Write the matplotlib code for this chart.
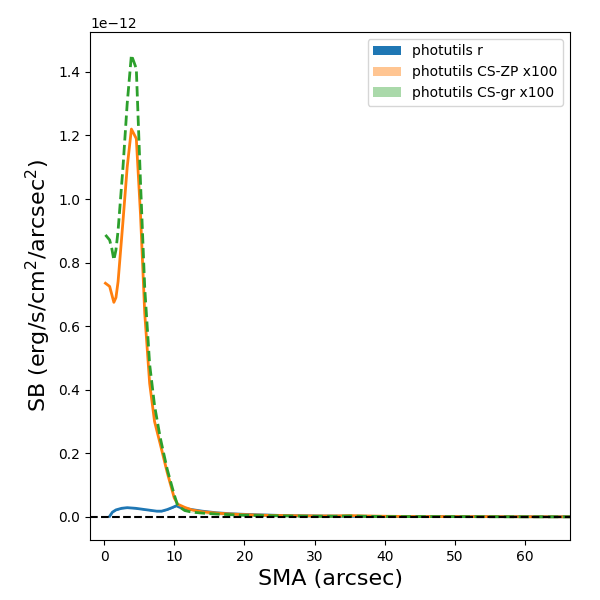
import numpy as np
import matplotlib
matplotlib.use("Agg")
import matplotlib.pyplot as plt

# SMA (arcsec) for the photutils r profile
sma_r = [0.8, 1.2, 1.7, 2.5, 3.3, 4.5, 5.5, 6.5, 7.5, 8.2, 9.0, 9.8, 10.3, 10.8,
         11.5, 12.5, 14, 16, 18, 20, 23, 26, 30, 35, 40, 50, 60, 66.4]
sb_r = [0.002, 0.015, 0.022, 0.027, 0.029, 0.027, 0.024, 0.021, 0.018, 0.018,
        0.023, 0.030, 0.035, 0.030, 0.027, 0.023, 0.018, 0.013, 0.010, 0.008,
        0.006, 0.004, 0.003, 0.002, 0.0015, 0.001, 0.0006, 0.0004]

# SMA (arcsec) for the CS profiles (x100)
sma_cs = [0.2, 0.8, 1.1, 1.4, 1.7, 2.0, 2.7, 3.3, 3.9, 4.6, 5.2, 5.8, 6.5, 7.2,
          8.0, 9.0, 10.0, 10.5, 11.5, 12.5, 14, 16, 18, 20, 23, 26, 30, 33, 35,
          37, 40, 45, 50, 55, 60, 66.4]
sb_zp = [0.735, 0.725, 0.70, 0.675, 0.69, 0.74, 0.93, 1.10, 1.22, 1.19, 0.95,
         0.64, 0.42, 0.30, 0.23, 0.14, 0.06, 0.04, 0.03, 0.022, 0.016, 0.012,
         0.009, 0.007, 0.005, 0.004, 0.003, 0.003, 0.004, 0.003, 0.002, 0.001,
         0.001, 0.0008, 0.0005, 0.0003]
sb_gr = [0.887, 0.871, 0.845, 0.808, 0.84, 0.90, 1.10, 1.30, 1.453, 1.41, 1.05,
         0.72, 0.48, 0.35, 0.25, 0.15, 0.07, 0.035, 0.02, 0.015, 0.012, 0.009,
         0.007, 0.005, 0.004, 0.003, 0.002, 0.002, 0.003, 0.002, 0.001, 0.001,
         0.0008, 0.0005, 0.0003, 0.0002]

scale = 1e-12
band = 0.0015

fig = plt.figure(figsize=(6, 6), dpi=100)
ax = fig.add_axes([0.15, 0.10, 0.80, 0.847])

def prof(x, y, color, ls, alpha, label):
    y = np.array(y) * scale
    ax.fill_between(x, y - band * scale, y, color=color,
                    alpha=alpha, lw=0, label=label)
    ax.plot(x, y, color=color, ls=ls, lw=2)

prof(sma_r, sb_r, "tab:blue", "-", 1.0, "photutils r")
prof(sma_cs, sb_zp, "tab:orange", "-", 0.45, "photutils CS-ZP x100")
prof(sma_cs, sb_gr, "tab:green", "--", 0.4, "photutils CS-gr x100")

ax.axhline(0, color="k", ls="--", lw=1.5)
ax.set_xlim(-2.0, 66.4)
ax.set_ylim(-0.0727e-12, 1.526e-12)
ax.set_xlabel("SMA (arcsec)", fontsize=16)
ax.set_ylabel("SB (erg/s/cm$^2$/arcsec$^2$)", fontsize=16)
ax.legend(loc="upper right")

fig.savefig("out.png", dpi=100)
